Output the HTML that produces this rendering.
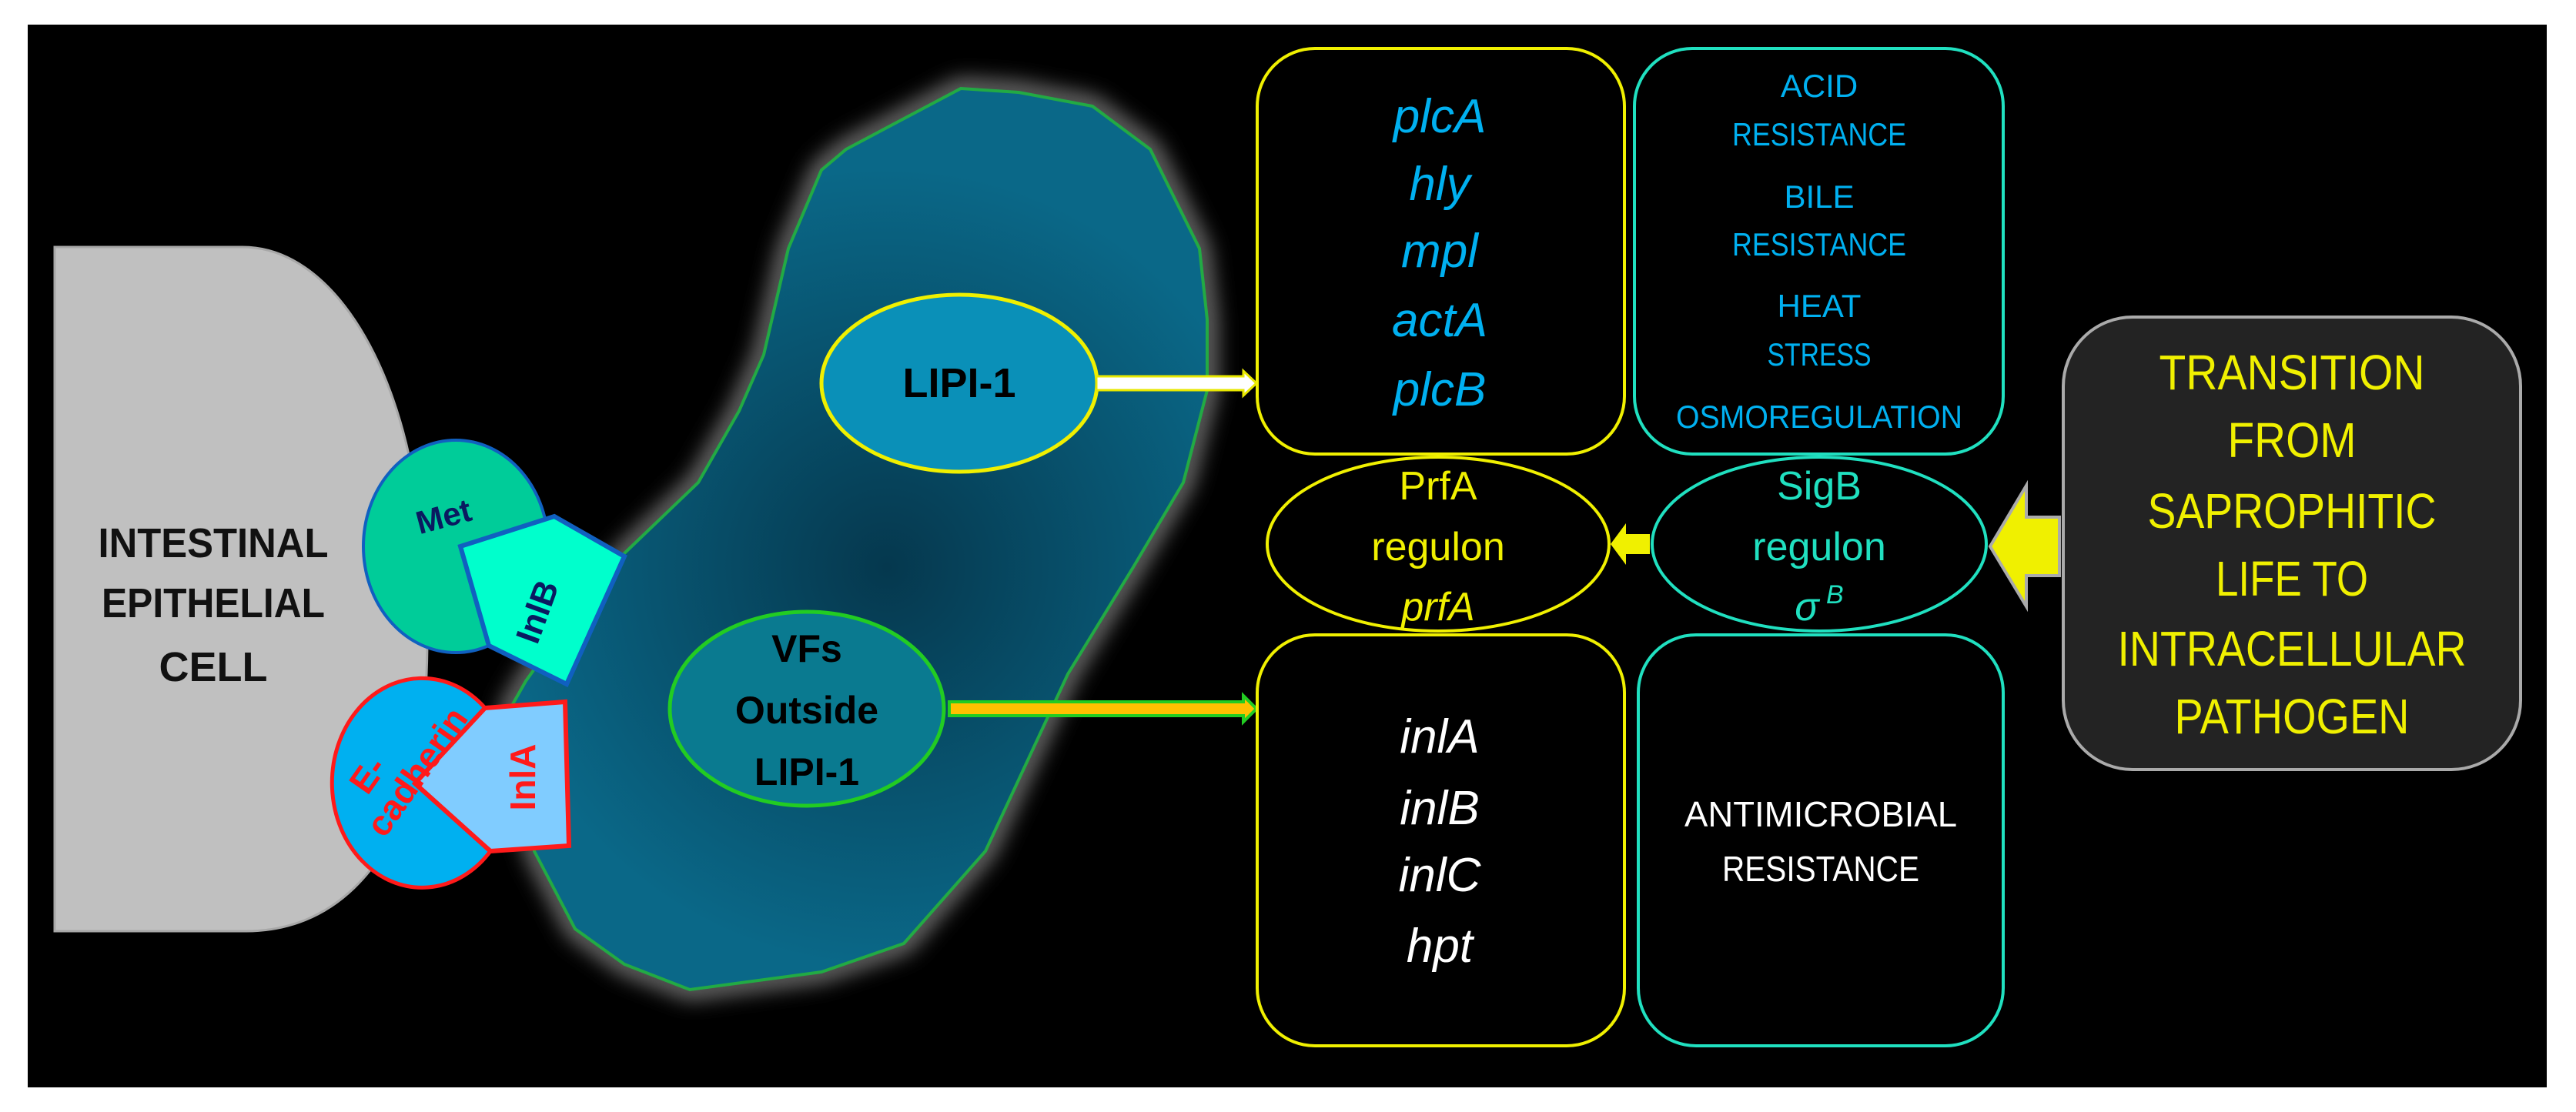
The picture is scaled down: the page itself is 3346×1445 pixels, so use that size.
<!DOCTYPE html>
<html><head><meta charset="utf-8"><style>
html,body{margin:0;padding:0;background:#fff;}
svg{display:block;}
text{font-family:"Liberation Sans Narrow","Liberation Sans",sans-serif;}
</style></head><body>
<svg width="3346" height="1445" viewBox="0 0 3346 1445" xmlns="http://www.w3.org/2000/svg">
<defs>
<radialGradient id="bg" cx="1152" cy="737" r="520" gradientUnits="userSpaceOnUse">
<stop offset="0" stop-color="#05384e"/><stop offset="1" stop-color="#0a6888"/></radialGradient>
<filter id="glow" x="-20%" y="-20%" width="140%" height="140%"><feGaussianBlur stdDeviation="14"/></filter>
</defs>
<rect x="0" y="0" width="3346" height="1445" fill="#fff"/>
<rect x="36" y="32" width="3272" height="1381" fill="#000"/>
<path d="M71 321 H315 C430 321 515 470 540 640 C560 760 560 900 540 1000 C510 1130 430 1210 320 1210 H71 Z" fill="#c0c0c0" stroke="#a8a8a8" stroke-width="3"/>
<text font-weight="bold" font-size="54" text-anchor="middle" fill="#111"><tspan x="277" y="724" textLength="299" lengthAdjust="spacingAndGlyphs">INTESTINAL</tspan><tspan x="277" y="802" textLength="290" lengthAdjust="spacingAndGlyphs">EPITHELIAL</tspan><tspan x="277" y="885">CELL</tspan></text>
<path d="M1248 115 L1099 194 L1067 221 L1024 323 L992 461 L960 534 L907 627 L811 719 L736 811 L683 885 L662 922 L694 1106 L747 1207 L811 1253 L896 1286 L1067 1263 L1174 1226 L1280 1106 L1387 876 L1472 737 L1537 627 L1568 507 L1568 415 L1558 323 L1494 194 L1419 138 L1323 120 Z" fill="none" stroke="#888" stroke-width="22" filter="url(#glow)"/>
<path d="M1248 115 L1099 194 L1067 221 L1024 323 L992 461 L960 534 L907 627 L811 719 L736 811 L683 885 L662 922 L694 1106 L747 1207 L811 1253 L896 1286 L1067 1263 L1174 1226 L1280 1106 L1387 876 L1472 737 L1537 627 L1568 507 L1568 415 L1558 323 L1494 194 L1419 138 L1323 120 Z" fill="url(#bg)" stroke="#22aa44" stroke-width="4"/>
<ellipse cx="592" cy="710" rx="120" ry="138" fill="#00cc99" stroke="#1060c0" stroke-width="4"/>
<text x="580" y="685" font-weight="bold" font-size="42" fill="#0a1a60" text-anchor="middle" transform="rotate(-15 580 685)">Met</text>
<polygon points="598,710 720,671 811,723 736,889 635,839" fill="#00ffcc" stroke="#1060c0" stroke-width="6"/>
<text x="712" y="800" font-weight="bold" font-size="44" fill="#0a1a60" text-anchor="middle" transform="rotate(-70 712 800)">InlB</text>
<path d="M630 920 A117 136 0 1 0 637 1106 L539 1018 Z" fill="#00b0f0" stroke="#ff1a1a" stroke-width="5"/>
<polygon points="539,1018 630,920 734,912 739,1099 637,1106" fill="#80ccff" stroke="#ff1a1a" stroke-width="6"/>
<text font-weight="bold" font-size="46" fill="#ff1a1a" text-anchor="middle" transform="rotate(-55 520 1000)"><tspan x="490" y="985">E-</tspan><tspan x="530" y="1035">cadherin</tspan></text>
<text x="680" y="1025" font-weight="bold" font-size="46" fill="#ff1a1a" text-anchor="middle" transform="rotate(-90 680 1010)">InlA</text>
<ellipse cx="1246" cy="498" rx="179" ry="115" fill="#0a90b8" stroke="#f0f000" stroke-width="5"/>
<text x="1246" y="516" font-weight="bold" font-size="54" text-anchor="middle" fill="#000">LIPI-1</text>
<polygon points="1424,489 1615,489 1615,482 1632,498 1615,514 1615,507 1424,507" fill="#fff" stroke="#e8e800" stroke-width="3"/>
<ellipse cx="1048" cy="921" rx="178" ry="126" fill="#0a7a90" stroke="#22cc22" stroke-width="5"/>
<text font-weight="bold" font-size="50" text-anchor="middle" fill="#000"><tspan x="1048" y="860">VFs</tspan><tspan x="1048" y="940">Outside</tspan><tspan x="1048" y="1020">LIPI-1</tspan></text>
<polygon points="1233,912 1615,912 1615,904 1632,921 1615,938 1615,930 1233,930" fill="#ffc000" stroke="#22cc22" stroke-width="4"/>
<rect x="1633" y="63" width="477" height="527" rx="75" fill="#000" stroke="#f0f000" stroke-width="4"/>
<rect x="2123" y="63" width="479" height="527" rx="75" fill="#000" stroke="#20e0c0" stroke-width="4"/>
<rect x="1633" y="825" width="477" height="534" rx="75" fill="#000" stroke="#f0f000" stroke-width="4"/>
<rect x="2128" y="825" width="474" height="534" rx="75" fill="#000" stroke="#20e0c0" stroke-width="4"/>
<text font-style="italic" font-size="62" text-anchor="middle" fill="#00b0f0"><tspan x="1870" y="172">plcA</tspan><tspan x="1870" y="260">hly</tspan><tspan x="1870" y="347">mpl</tspan><tspan x="1870" y="437">actA</tspan><tspan x="1870" y="527">plcB</tspan></text>
<text font-size="42" text-anchor="middle" fill="#00b0f0" lengthAdjust="spacingAndGlyphs"><tspan x="2363" y="126">ACID</tspan><tspan x="2363" y="189" textLength="226" lengthAdjust="spacingAndGlyphs">RESISTANCE</tspan><tspan x="2363" y="270">BILE</tspan><tspan x="2363" y="332" textLength="226" lengthAdjust="spacingAndGlyphs">RESISTANCE</tspan><tspan x="2363" y="412">HEAT</tspan><tspan x="2363" y="475" textLength="135" lengthAdjust="spacingAndGlyphs">STRESS</tspan><tspan x="2363" y="556" textLength="372" lengthAdjust="spacingAndGlyphs">OSMOREGULATION</tspan></text>
<text font-style="italic" font-size="62" text-anchor="middle" fill="#fff"><tspan x="1870" y="978">inlA</tspan><tspan x="1870" y="1071">inlB</tspan><tspan x="1870" y="1158">inlC</tspan><tspan x="1870" y="1250">hpt</tspan></text>
<text font-size="46" text-anchor="middle" fill="#fff"><tspan x="2365" y="1074" textLength="354" lengthAdjust="spacingAndGlyphs">ANTIMICROBIAL</tspan><tspan x="2365" y="1145" textLength="256" lengthAdjust="spacingAndGlyphs">RESISTANCE</tspan></text>
<ellipse cx="1868" cy="707" rx="222" ry="113" fill="#000" stroke="#f0f000" stroke-width="4"/>
<ellipse cx="2363" cy="707" rx="217" ry="113" fill="#000" stroke="#20e0c0" stroke-width="4"/>
<text font-size="52" text-anchor="middle" fill="#f0f000"><tspan x="1868" y="649">PrfA</tspan><tspan x="1868" y="728">regulon</tspan><tspan x="1868" y="806" font-style="italic">prfA</tspan></text>
<text font-size="52" text-anchor="middle" fill="#20e0c0"><tspan x="2363" y="649">SigB</tspan><tspan x="2363" y="728">regulon</tspan><tspan x="2363" y="806" font-style="italic">σ</tspan><tspan font-size="34" font-style="italic" dy="-22"> B</tspan></text>
<polygon points="2092,707 2112,680 2112,694 2143,694 2143,720 2112,720 2112,734" fill="#f0f000"/>
<polygon points="2585,710 2632,631 2632,672 2675,672 2675,748 2632,748 2632,788" fill="#f0f000" stroke="#aaa" stroke-width="4"/>
<rect x="2680" y="412" width="594" height="588" rx="90" fill="#232323" stroke="#aaa" stroke-width="4"/>
<text font-size="64" text-anchor="middle" fill="#f0f000"><tspan x="2977" y="506" textLength="345" lengthAdjust="spacingAndGlyphs">TRANSITION</tspan><tspan x="2977" y="594" textLength="167" lengthAdjust="spacingAndGlyphs">FROM</tspan><tspan x="2977" y="686" textLength="375" lengthAdjust="spacingAndGlyphs">SAPROPHITIC</tspan><tspan x="2977" y="774" textLength="198" lengthAdjust="spacingAndGlyphs">LIFE TO</tspan><tspan x="2977" y="865" textLength="453" lengthAdjust="spacingAndGlyphs">INTRACELLULAR</tspan><tspan x="2977" y="953" textLength="305" lengthAdjust="spacingAndGlyphs">PATHOGEN</tspan></text>
</svg>
</body></html>
